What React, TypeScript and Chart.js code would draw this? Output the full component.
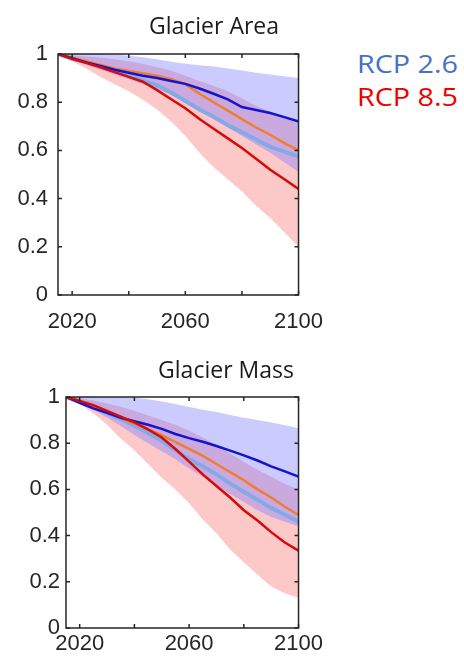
import React, { useEffect, useRef } from "react";
import { Chart, registerables } from "chart.js";

Chart.register(...registerables);

// ---------- data ----------
const YEARS = [2015, 2020, 2025, 2030, 2035, 2040, 2045, 2050, 2055, 2060, 2065, 2070, 2075, 2080, 2085, 2090, 2095, 2100];

// Glacier Area
const AREA_RCP26 = [1.0, 0.983, 0.965, 0.95, 0.935, 0.922, 0.91, 0.9, 0.888, 0.876, 0.857, 0.835, 0.812, 0.78, 0.768, 0.755, 0.738, 0.72];
const AREA_RCP85 = [1.0, 0.98, 0.963, 0.945, 0.925, 0.905, 0.885, 0.85, 0.812, 0.775, 0.73, 0.69, 0.65, 0.61, 0.565, 0.52, 0.48, 0.44];
const AREA_ORANGE = [1.0, 0.985, 0.97, 0.955, 0.94, 0.93, 0.92, 0.91, 0.895, 0.875, 0.835, 0.8, 0.765, 0.73, 0.695, 0.665, 0.63, 0.6];
const AREA_LIGHTBLUE = [1.0, 0.98, 0.965, 0.95, 0.93, 0.91, 0.89, 0.87, 0.84, 0.805, 0.77, 0.74, 0.705, 0.675, 0.645, 0.615, 0.595, 0.575];
const AREA_RCP26_HIGH = [1.0, 1.0, 1.0, 1.0, 0.998, 0.993, 0.986, 0.978, 0.968, 0.96, 0.953, 0.948, 0.94, 0.932, 0.922, 0.915, 0.908, 0.9];
const AREA_RCP26_LOW = [1.0, 0.975, 0.955, 0.935, 0.915, 0.895, 0.875, 0.855, 0.83, 0.8, 0.765, 0.73, 0.695, 0.66, 0.625, 0.59, 0.55, 0.51];
const AREA_RCP85_HIGH = [1.0, 0.995, 0.99, 0.985, 0.978, 0.97, 0.96, 0.945, 0.93, 0.91, 0.888, 0.868, 0.845, 0.815, 0.785, 0.76, 0.735, 0.71];
const AREA_RCP85_LOW = [1.0, 0.97, 0.94, 0.905, 0.875, 0.845, 0.81, 0.77, 0.72, 0.66, 0.59, 0.53, 0.48, 0.43, 0.37, 0.32, 0.26, 0.2];

// Glacier Mass
const MASS_RCP26 = [1.0, 0.975, 0.951, 0.932, 0.91, 0.895, 0.88, 0.862, 0.84, 0.822, 0.806, 0.788, 0.768, 0.747, 0.725, 0.7, 0.678, 0.655];
const MASS_RCP85 = [1.0, 0.983, 0.965, 0.94, 0.915, 0.89, 0.86, 0.825, 0.775, 0.72, 0.665, 0.615, 0.565, 0.51, 0.465, 0.415, 0.37, 0.335];
const MASS_ORANGE = [1.0, 0.98, 0.96, 0.935, 0.91, 0.885, 0.86, 0.835, 0.805, 0.775, 0.745, 0.71, 0.675, 0.64, 0.6, 0.565, 0.525, 0.49];
const MASS_LIGHTBLUE = [1.0, 0.98, 0.955, 0.93, 0.905, 0.875, 0.845, 0.81, 0.77, 0.73, 0.7, 0.665, 0.625, 0.59, 0.555, 0.52, 0.49, 0.46];
const MASS_RCP26_HIGH = [1.0, 1.0, 1.0, 1.0, 1.0, 0.997, 0.99, 0.98, 0.97, 0.957, 0.945, 0.935, 0.922, 0.91, 0.9, 0.89, 0.878, 0.865];
const MASS_RCP26_LOW = [1.0, 0.97, 0.945, 0.91, 0.875, 0.835, 0.8, 0.765, 0.73, 0.69, 0.655, 0.615, 0.58, 0.545, 0.51, 0.48, 0.46, 0.44];
const MASS_RCP85_HIGH = [1.0, 0.995, 0.985, 0.972, 0.958, 0.94, 0.92, 0.9, 0.88, 0.855, 0.825, 0.79, 0.755, 0.72, 0.685, 0.655, 0.625, 0.6];
const MASS_RCP85_LOW = [1.0, 0.97, 0.93, 0.88, 0.82, 0.77, 0.71, 0.65, 0.6, 0.54, 0.47, 0.41, 0.34, 0.285, 0.23, 0.18, 0.15, 0.13];

const X_TICKS = [2020, 2040, 2060, 2080, 2100];
const X_LABELS = [2020, 2060, 2100];
const Y_TICKS = [0, 0.2, 0.4, 0.6, 0.8, 1];
const LEGEND = ["RCP 2.6", "RCP 8.5"];
const TITLES = ["Glacier Area", "Glacier Mass"];

// ---------- styles ----------
const C_BLUE = "rgb(20,20,205)";
const C_RED = "rgb(215,10,10)";
const C_ORANGE = "rgb(240,125,50)";
const C_LIGHTBLUE = "rgb(130,170,232)";
const F_BLUE = "rgba(125,125,255,0.40)";
const F_RED = "rgba(250,125,125,0.42)";
const AXIS = "#262626";

const pts = (vals: number[]) => vals.map((v, i) => ({ x: YEARS[i], y: v }));

const boxPlugin = {
  id: "matlabBox",
  afterDatasetsDraw(chart: any) {
    const { ctx, chartArea: a, scales } = chart;
    ctx.save();
    ctx.strokeStyle = AXIS;
    ctx.lineWidth = 1.5;
    ctx.strokeRect(a.left, a.top, a.right - a.left, a.bottom - a.top);
    const L = 4;
    ctx.beginPath();
    scales.x.ticks.forEach((t: any) => {
      const px = scales.x.getPixelForValue(t.value);
      ctx.moveTo(px, a.bottom);
      ctx.lineTo(px, a.bottom - L);
      ctx.moveTo(px, a.top);
      ctx.lineTo(px, a.top + L);
    });
    scales.y.ticks.forEach((t: any) => {
      const py = scales.y.getPixelForValue(t.value);
      ctx.moveTo(a.left, py);
      ctx.lineTo(a.left + L, py);
      ctx.moveTo(a.right, py);
      ctx.lineTo(a.right - L, py);
    });
    ctx.stroke();
    ctx.restore();
  },
};

type PanelProps = {
  top: number;
  width: number;
  height: number;
  padTop: number;
  yWidth: number;
  xHeight: number;
  yPad: number;
  xPad: number;
  median26: number[];
  median85: number[];
  orange: number[];
  lightblue: number[];
  hi26: number[];
  lo26: number[];
  hi85: number[];
  lo85: number[];
};

function Panel(p: PanelProps) {
  const ref = useRef<HTMLCanvasElement | null>(null);
  useEffect(() => {
    if (!ref.current) return;
    const line = (vals: number[], color: string, w: number) => ({
      data: pts(vals),
      borderColor: color,
      borderWidth: w,
      pointRadius: 0,
      fill: false,
      tension: 0,
    });
    const band = (vals: number[], fill: any, bg: string) => ({
      data: pts(vals),
      borderWidth: 0,
      borderColor: "rgba(0,0,0,0)",
      backgroundColor: bg,
      pointRadius: 0,
      fill,
      tension: 0,
    });
    const chart = new Chart(ref.current, {
      type: "line",
      data: {
        datasets: [
          line(p.median85, C_RED, 2.5),
          line(p.median26, C_BLUE, 2.5),
          line(p.orange, C_ORANGE, 2.5),
          line(p.lightblue, C_LIGHTBLUE, 4),
          band(p.hi26, "+1", F_BLUE),
          band(p.lo26, false, F_BLUE),
          band(p.hi85, "+1", F_RED),
          band(p.lo85, false, F_RED),
        ] as any,
      },
      options: {
        animation: false,
        responsive: false,
        maintainAspectRatio: false,
        devicePixelRatio: 1,
        layout: { padding: { top: p.padTop, right: 0, bottom: 0, left: 0 } },
        plugins: {
          legend: { display: false },
          tooltip: { enabled: false },
          title: { display: false },
          filler: { drawTime: "beforeDatasetsDraw" },
        } as any,
        scales: {
          x: {
            type: "linear",
            min: 2015,
            max: 2100,
            grid: { display: false, drawTicks: false },
            border: { display: false },
            afterBuildTicks: (s: any) => {
              s.ticks = X_TICKS.map((v) => ({ value: v }));
            },
            afterFit: (s: any) => {
              s.height = p.xHeight;
            },
            ticks: {
              autoSkip: false,
              maxRotation: 0,
              padding: p.xPad,
              color: AXIS,
              font: { family: "'Liberation Sans', Arial, sans-serif", size: 22 },
              callback: (v: any) => (X_LABELS.includes(Number(v)) ? String(v) : ""),
            },
          },
          y: {
            type: "linear",
            min: 0,
            max: 1,
            grid: { display: false, drawTicks: false },
            border: { display: false },
            afterBuildTicks: (s: any) => {
              s.ticks = Y_TICKS.map((v) => ({ value: v }));
            },
            afterFit: (s: any) => {
              s.width = p.yWidth;
            },
            ticks: {
              padding: p.yPad,
              color: AXIS,
              font: { family: "'Liberation Sans', Arial, sans-serif", size: 22 },
              callback: (v: any) => String(Math.round(Number(v) * 10) / 10),
            },
          },
        },
      },
      plugins: [boxPlugin],
    });
    return () => chart.destroy();
  }, []);
  return (
    <canvas
      ref={ref}
      width={p.width}
      height={p.height}
      style={{ position: "absolute", left: 0, top: p.top, width: p.width, height: p.height }}
    />
  );
}

const titleStyle = (left: number, top: number, width: number): React.CSSProperties => ({
  position: "absolute",
  left,
  top,
  width,
  textAlign: "center",
  fontFamily: "'Open Sans', sans-serif",
  fontSize: 23,
  lineHeight: "30px",
  color: "#1a1a1a",
  whiteSpace: "nowrap",
});

const legendStyle = (top: number, color: string): React.CSSProperties => ({
  position: "absolute",
  left: 357,
  top,
  fontFamily: "'Open Sans', sans-serif",
  fontSize: 25,
  lineHeight: "30px",
  color,
  whiteSpace: "nowrap",
  transform: "scaleX(1.15)",
  transformOrigin: "left center",
});

export default function App() {
  return (
    <div style={{ position: "absolute", left: 0, top: 0, width: 464, height: 664, background: "#fff", overflow: "hidden" }}>
      <Panel
        top={0}
        width={337}
        height={335}
        padTop={54}
        yWidth={58}
        xHeight={40}
        yPad={10}
        xPad={14}
        median26={AREA_RCP26}
        median85={AREA_RCP85}
        orange={AREA_ORANGE}
        lightblue={AREA_LIGHTBLUE}
        hi26={AREA_RCP26_HIGH}
        lo26={AREA_RCP26_LOW}
        hi85={AREA_RCP85_HIGH}
        lo85={AREA_RCP85_LOW}
      />
      <Panel
        top={340}
        width={326}
        height={324}
        padTop={57}
        yWidth={66}
        xHeight={36}
        yPad={6}
        xPad={3}
        median26={MASS_RCP26}
        median85={MASS_RCP85}
        orange={MASS_ORANGE}
        lightblue={MASS_LIGHTBLUE}
        hi26={MASS_RCP26_HIGH}
        lo26={MASS_RCP26_LOW}
        hi85={MASS_RCP85_HIGH}
        lo85={MASS_RCP85_LOW}
      />
      <div style={titleStyle(114, 10, 200)}>{TITLES[0]}</div>
      <div style={titleStyle(126, 354, 200)}>{TITLES[1]}</div>
      <div style={legendStyle(48, "#4472c4")}>{LEGEND[0]}</div>
      <div style={legendStyle(81, "#ee0000")}>{LEGEND[1]}</div>
    </div>
  );
}
